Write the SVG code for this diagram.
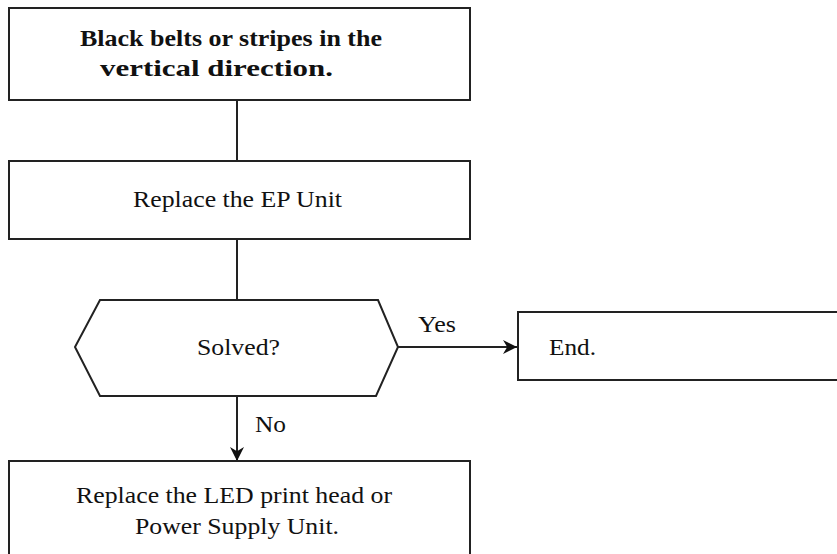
<svg xmlns="http://www.w3.org/2000/svg" width="837" height="554" viewBox="0 0 837 554">
<defs>
<style>
.box{fill:#fff;stroke:#222;stroke-width:2}
.ln{fill:none;stroke:#222;stroke-width:2}
text{font-family:"Liberation Serif","Times New Roman",serif;font-size:23px;fill:#111}
.b{font-weight:bold}
.c{text-anchor:middle}
</style>
<marker id="ah" viewBox="0 0 10 10" refX="10" refY="5" markerWidth="14" markerHeight="14" markerUnits="userSpaceOnUse" orient="auto">
<path d="M0,0 L10,5 L0,10 L3,5 Z" fill="#111"/>
</marker>
</defs>
<g id="connectors">
<line class="ln" x1="237" y1="100" x2="237" y2="161"/>
<line class="ln" x1="237" y1="239" x2="237" y2="300"/>
<line class="ln" x1="398" y1="347" x2="517" y2="347" marker-end="url(#ah)"/>
<line class="ln" x1="237" y1="396" x2="237" y2="461" marker-end="url(#ah)"/>
<text x="418" y="332" textLength="38" lengthAdjust="spacingAndGlyphs">Yes</text>
<text x="255" y="432" textLength="31" lengthAdjust="spacingAndGlyphs">No</text>
</g>
<g id="n1">
<rect class="box" x="9" y="8" width="461" height="92"/>
<text class="b" x="80" y="46" textLength="302" lengthAdjust="spacingAndGlyphs">Black belts or stripes in the</text>
<text class="b" x="100" y="76" textLength="233" lengthAdjust="spacingAndGlyphs">vertical direction.</text>
</g>
<g id="n2">
<rect class="box" x="9" y="161" width="461" height="78"/>
<text x="133" y="207" textLength="209" lengthAdjust="spacingAndGlyphs">Replace the EP Unit</text>
</g>
<g id="n3">
<polygon class="box" points="100,300 378,300 398,347 376,396 100,396 75,347"/>
<text x="197" y="355" textLength="83" lengthAdjust="spacingAndGlyphs">Solved?</text>
</g>
<g id="n4">
<rect class="box" x="518" y="312" width="330" height="68"/>
<text x="549" y="355" textLength="47" lengthAdjust="spacingAndGlyphs">End.</text>
</g>
<g id="n5">
<rect class="box" x="9" y="461" width="461" height="110"/>
<text x="76" y="503" textLength="316" lengthAdjust="spacingAndGlyphs">Replace the LED print head or</text>
<text x="135" y="534" textLength="204" lengthAdjust="spacingAndGlyphs">Power Supply Unit.</text>
</g>
</svg>
